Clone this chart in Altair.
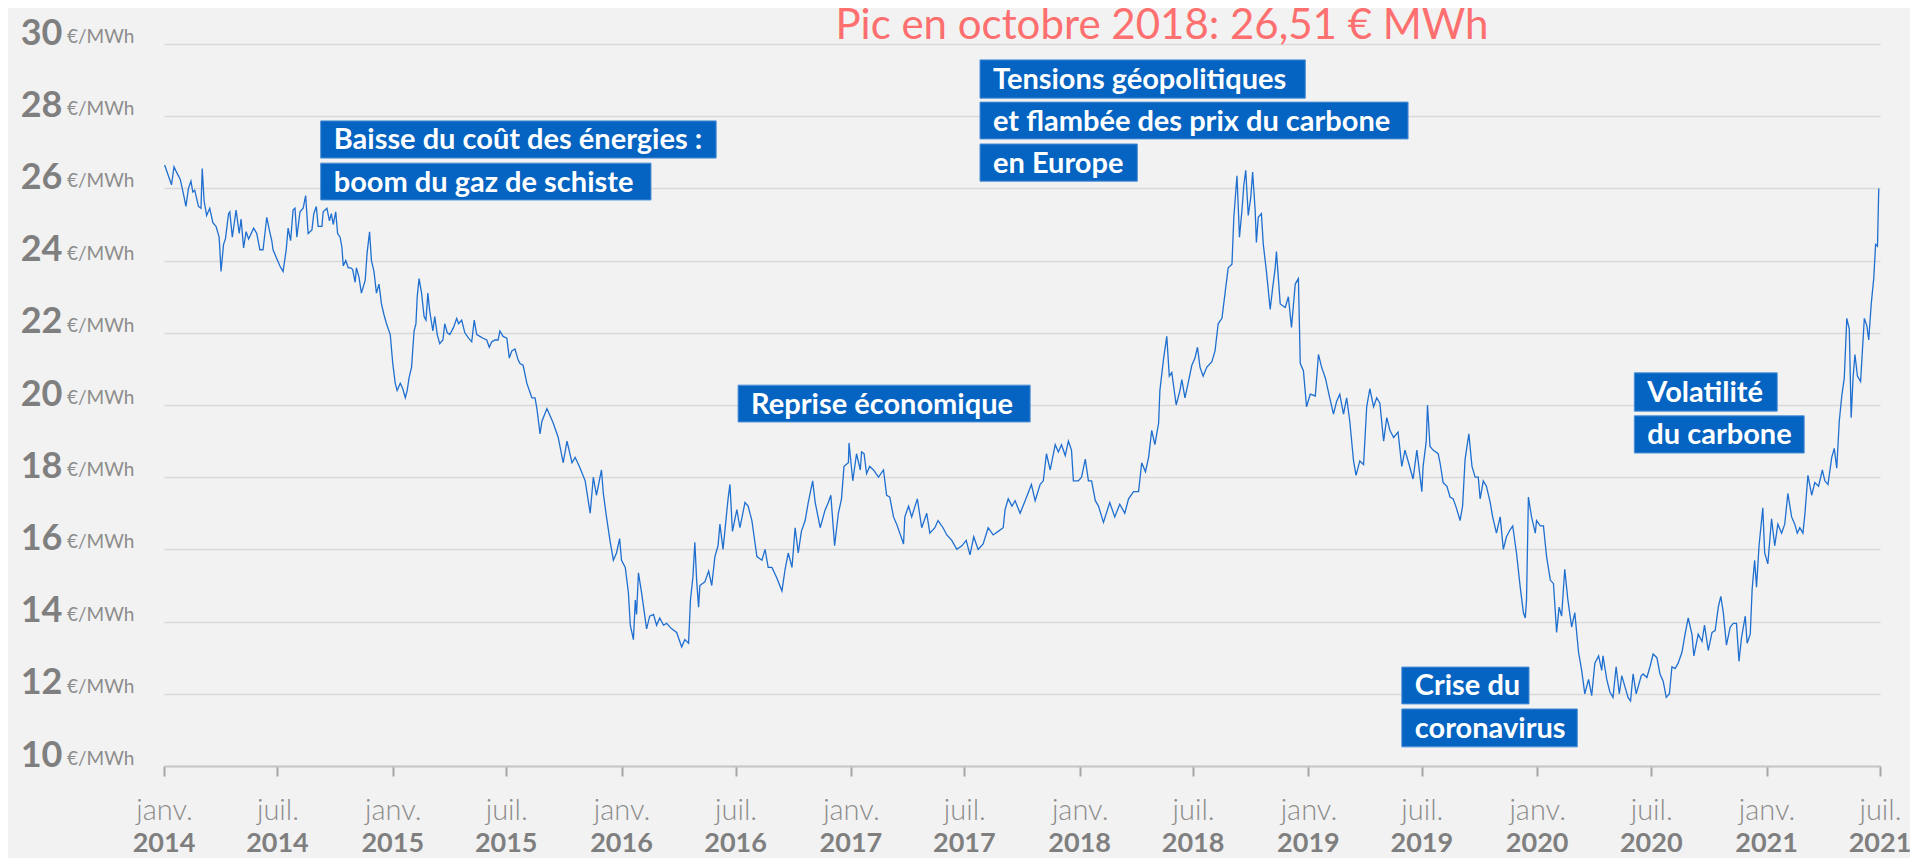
import altair as alt
import pandas as pd

START = "2014-01-01"

# days after 1 Jan 2014 and price (EUR/MWh)
days = [
    1, 7, 12, 16, 20, 26, 31, 35, 39, 43, 46, 49, 55, 59, 61, 64, 68, 73, 78, 83,
    88, 91, 95, 98, 103, 105, 109, 115, 120, 123, 127, 131, 135, 143, 148, 153, 158, 164, 168, 172,
    174, 180, 185, 190, 195, 198, 202, 206, 209, 212, 217, 222, 226, 230, 236, 239, 243, 246, 252, 254,
    260, 264, 267, 270, 274, 277, 281, 284, 286, 290, 294, 298, 301, 305, 307, 311, 315, 321, 324, 328,
    331, 335, 339, 343, 347, 351, 355, 361, 365, 369, 372, 377, 381, 385, 388, 391, 395, 399, 402, 404,
    407, 411, 415, 418, 421, 424, 429, 432, 436, 440, 445, 448, 452, 456, 462, 467, 470, 475, 480, 486,
    491, 495, 499, 504, 509, 515, 519, 523, 528, 533, 536, 541, 547, 551, 555, 560, 565,
    568, 573, 579, 587, 592, 595, 600, 603, 611, 616, 621, 629, 637, 643, 651, 656, 664, 672, 680, 685,
    690, 698, 701, 706, 712, 717, 722, 727, 730, 736, 741, 744, 749, 752, 754, 757, 762, 770, 775, 781,
    786, 791, 797, 802, 810, 818, 826, 831, 837, 840, 844, 847, 850, 853, 855, 863, 869, 874, 879, 884,
    887, 892, 900, 903, 907, 914, 919, 927, 932, 938, 946, 954, 959, 964, 970, 978, 986, 991, 996, 1002,
    1007, 1012, 1017, 1023, 1028, 1035, 1039, 1047, 1055, 1060, 1064, 1070, 1076, 1081, 1085, 1092, 1093, 1099, 1105, 1111,
    1113, 1117, 1121, 1126, 1132, 1140, 1148, 1153, 1158, 1164, 1169, 1174, 1180, 1182, 1188, 1193, 1202, 1209, 1217, 1222,
    1230, 1235, 1243, 1249, 1257, 1265, 1273, 1280, 1286, 1292, 1299, 1307, 1315, 1323, 1331, 1339, 1342, 1347, 1353, 1358,
    1366, 1374, 1384, 1390, 1398, 1403, 1408, 1414, 1422, 1427, 1432, 1438, 1443, 1448, 1451, 1459, 1464, 1470, 1475, 1480,
    1486, 1491, 1499,
    1509, 1517, 1525, 1533, 1539, 1547, 1555, 1560, 1566, 1571, 1576, 1581, 1587, 1589, 1595, 1600, 1604, 1608, 1615, 1621,
    1624, 1629, 1634, 1640, 1645, 1649, 1653, 1658, 1664, 1672, 1677, 1682, 1688, 1693, 1698, 1704, 1707, 1712, 1716, 1720,
    1723, 1726, 1730, 1734, 1737, 1741, 1743, 1746, 1751, 1754, 1759, 1765, 1769, 1773, 1775, 1781, 1789, 1794, 1799, 1805,
    1810, 1813, 1818, 1823, 1829, 1837, 1842, 1847, 1853, 1860, 1866, 1871, 1876, 1882, 1887, 1892, 1898, 1902, 1908, 1914,
    1919, 1924, 1930, 1935, 1940, 1946, 1951, 1956, 1962, 1969, 1975, 1980, 1985, 1993, 1999, 2007,
    2009, 2014, 2016, 2020, 2025, 2033, 2036, 2041, 2047, 2052, 2057, 2062, 2068, 2072, 2076, 2082, 2087, 2092, 2097, 2100,
    2105, 2110, 2116, 2120, 2126, 2132, 2137, 2142, 2148, 2152, 2158, 2164, 2169, 2172, 2174, 2177, 2182, 2188, 2190, 2196,
    2201, 2206, 2212, 2217, 2220, 2222, 2226, 2230, 2235, 2240, 2246, 2251, 2257, 2262, 2267, 2273, 2278, 2283, 2289, 2294,
    2296, 2302, 2307, 2312, 2317, 2322, 2326, 2331, 2336, 2340, 2344, 2349, 2357,
    2360, 2366, 2371, 2376, 2382, 2387, 2392, 2397, 2402, 2406, 2411, 2416, 2422, 2427, 2432, 2438, 2441, 2448, 2454, 2458,
    2464, 2470, 2475, 2480, 2484, 2488, 2493, 2499, 2504, 2509, 2513, 2517, 2523, 2526, 2531, 2534, 2538, 2541, 2545, 2551,
    2554, 2559, 2565, 2570, 2575, 2581, 2586, 2591, 2597, 2602, 2606, 2610, 2615, 2618, 2623, 2629, 2634, 2640, 2646, 2650,
    2655, 2661, 2665, 2669, 2673, 2677, 2681, 2685, 2689, 2692, 2695, 2698, 2702, 2707, 2713, 2717, 2720, 2724, 2728, 2731,
    2734, 2736,
]
price = [
    26.65, 26.35, 26.1, 26.6, 26.45, 26.25, 25.85, 25.5, 26.0, 26.2, 25.9, 25.95, 25.5, 25.45, 26.55, 25.65, 25.25, 25.45, 25.05, 24.95,
    24.65, 23.7, 24.45, 24.6, 25.3, 25.35, 24.65, 25.4, 24.75, 25.15, 24.35, 24.8, 24.6, 24.9, 24.75, 24.3, 24.3, 25.2, 24.85, 24.55,
    24.3, 24.05, 23.85, 23.7, 24.3, 24.9, 24.55, 25.4, 25.45, 24.65, 25.35, 25.45, 25.8, 24.75, 24.85, 25.3, 25.5, 24.95, 24.95, 25.35,
    25.45, 25.1, 25.3, 25.0, 25.35, 24.75, 24.65, 24.35, 23.85, 24.0, 23.8, 23.8, 23.75, 23.4, 23.8, 23.55, 23.1, 23.45, 24.2, 24.8,
    24.0, 23.7, 23.1, 23.35, 22.8, 22.5, 22.25, 21.95, 21.15, 20.6, 20.4, 20.6, 20.45, 20.2, 20.4, 20.75, 21.05, 22.05, 22.25, 23.0,
    23.5, 23.1, 22.45, 22.35, 23.1, 22.6, 22.05, 22.45, 21.95, 21.7, 21.8, 22.25, 22.0, 21.95, 22.15, 22.4, 22.25, 22.35, 22.0, 21.85,
    21.75, 22.35, 21.95, 21.9, 21.85, 21.8, 21.6, 21.75, 21.8, 21.8, 22.05, 21.9, 21.85, 21.3, 21.5, 21.55, 21.25,
    21.15, 21.1, 20.6, 20.2, 20.2, 19.9, 19.2, 19.55, 19.9, 19.7, 19.5, 19.1, 18.4, 19.0, 18.4, 18.55, 18.25, 17.9, 17.0, 18.0,
    17.5, 18.2, 17.55, 16.9, 16.2, 15.7, 15.9, 16.3, 15.7, 15.5, 14.8, 13.9, 13.5, 14.6, 14.2, 15.35, 14.8, 13.8, 14.15, 14.2,
    13.9, 14.1, 13.9, 13.95, 13.8, 13.7, 13.3, 13.5, 13.4, 14.6, 15.25, 16.2, 15.1, 14.4, 15.0, 15.1, 15.4, 15.0, 15.8, 16.1,
    16.7, 16.0, 17.4, 17.8, 16.5, 17.1, 16.6, 17.3, 17.2, 16.8, 15.8, 15.7, 16.0, 15.5, 15.5, 15.2, 14.85, 15.45, 15.9, 15.5,
    16.6, 15.9, 16.5, 16.8, 17.3, 17.9, 17.3, 16.6, 17.1, 17.3, 17.5, 16.1, 17.0, 17.4, 18.3, 18.4, 18.95, 17.9, 18.65, 18.2,
    18.7, 18.65, 18.1, 18.3, 18.2, 18.0, 18.2, 17.5, 17.45, 16.9, 16.7, 16.45, 16.15, 16.9, 17.2, 16.9, 17.4, 16.6, 17.0, 16.45,
    16.6, 16.8, 16.6, 16.4, 16.25, 16.0, 16.1, 16.25, 15.85, 16.35, 16.0, 16.15, 16.6, 16.4, 16.5, 16.6, 17.1, 17.4, 17.2, 17.35,
    17.0, 17.35, 17.8, 17.35, 17.8, 17.9, 18.65, 18.2, 18.9, 18.7, 18.9, 18.6, 19.0, 18.75, 17.9, 17.9, 18.0, 18.5, 17.9, 17.9,
    17.35, 17.2, 16.75,
    17.3, 16.9, 17.25, 17.0, 17.4, 17.6, 17.6, 18.4, 18.15, 18.55, 19.3, 18.9, 19.5, 20.4, 21.3, 21.9, 20.8, 20.9, 20.0, 20.4,
    20.7, 20.2, 20.6, 21.1, 21.3, 21.6, 21.05, 20.8, 21.05, 21.2, 21.5, 22.25, 22.4, 23.1, 23.8, 23.9, 25.2, 26.35, 24.65, 25.4,
    26.1, 26.5, 25.25, 25.75, 26.45, 25.4, 24.5, 25.2, 25.3, 24.45, 23.7, 22.65, 23.25, 23.8, 24.25, 22.8, 22.7, 23.0, 22.15, 23.35,
    23.5, 21.15, 20.95, 19.95, 20.3, 20.25, 21.4, 21.05, 20.75, 20.2, 19.75, 20.1, 20.3, 19.75, 20.2, 19.55, 18.45, 18.05, 18.45, 18.35,
    19.95, 20.45, 19.95, 20.2, 20.05, 19.0, 19.65, 19.3, 19.1, 19.25, 18.3, 18.75, 18.45, 17.95, 18.75, 17.6,
    18.3, 19.0, 20.0, 18.85, 18.75, 18.65, 18.4, 17.85, 17.75, 17.45, 17.4, 17.15, 16.8, 17.2, 18.5, 19.2, 18.3, 18.0, 18.0, 17.4,
    17.9, 17.75, 17.3, 16.9, 16.45, 16.9, 16.0, 16.35, 16.55, 16.65, 15.9, 14.95, 14.25, 14.1, 14.6, 17.45, 16.9, 16.45, 16.8, 16.65,
    16.65, 15.8, 15.15, 15.05, 14.25, 13.7, 14.4, 14.15, 15.45, 14.6, 13.85, 14.25, 13.15, 12.65, 12.0, 12.4, 11.95, 12.85, 13.05, 12.65,
    13.05, 12.4, 12.05, 11.9, 12.75, 12.0, 12.5, 12.2, 11.9, 11.8, 12.55, 12.0, 12.5,
    12.55, 12.45, 12.75, 13.1, 13.0, 12.55, 12.35, 11.9, 12.0, 12.75, 12.7, 12.85, 13.15, 13.65, 14.1, 13.65, 13.05, 13.65, 13.45, 13.9,
    13.2, 13.7, 13.75, 14.4, 14.7, 14.25, 13.35, 13.85, 13.95, 13.95, 12.9, 13.55, 14.15, 13.4, 13.65, 14.9, 15.7, 14.95, 16.1, 17.15,
    15.9, 15.6, 16.85, 16.1, 16.7, 16.45, 16.7, 17.55, 16.9, 16.7, 16.45, 16.6, 16.45, 16.95, 18.05, 17.5, 17.85, 17.75, 18.2, 17.9,
    17.8, 18.55, 18.8, 18.25, 19.55, 20.25, 20.75, 22.4, 22.1, 19.65, 20.75, 21.4, 20.8, 20.65, 22.4, 22.2, 21.8, 22.8, 23.5, 24.45,
    24.4, 26.0,
]

y_ticks = [10, 12, 14, 16, 18, 20, 22, 24, 26, 28, 30]
tick_years = [2014, 2014, 2015, 2015, 2016, 2016, 2017, 2017, 2018, 2018, 2019, 2019, 2020, 2020, 2021, 2021]
tick_months = [1, 7] * 8

annot_text = [
    "Baisse du coût des énergies :", "boom du gaz de schiste",
    "Tensions géopolitiques", "et flambée des prix du carbone", "en Europe",
    "Reprise économique",
    "Volatilité", "du carbone",
    "Crise du", "coronavirus",
]
annot_start = ["2014-09-08", "2014-09-08", "2017-07-26", "2017-07-26", "2017-07-26",
               "2016-07-05", "2020-06-04", "2020-06-04", "2019-05-30", "2019-05-30"]
annot_end = ["2016-05-31", "2016-02-17", "2018-12-27", "2019-06-09", "2018-04-03",
             "2017-10-14", "2021-01-18", "2021-03-02", "2019-12-19", "2020-03-05"]
annot_top = [27.87, 26.70, 29.56, 28.39, 27.23, 20.55, 20.89, 19.70, 12.74, 11.58]
annot_bottom = [26.84, 25.68, 28.50, 27.37, 26.20, 19.53, 19.83, 18.67, 11.72, 10.53]

title_text = "Pic en octobre 2018: 26,51 € MWh"

# ---------------------------------------------------------------- tables
line_df = pd.DataFrame({
    "date": pd.Timestamp(START) + pd.to_timedelta(days, unit="D"),
    "price": price,
})
tick_df = pd.DataFrame({
    "date": [pd.Timestamp(year=y, month=m, day=1) for y, m in zip(tick_years, tick_months)],
    "year": [str(y) for y in tick_years],
})
unit_df = pd.DataFrame({"v": y_ticks, "unit": ["€/MWh"] * len(y_ticks)})
annot_df = pd.DataFrame({
    "text": annot_text,
    "start": pd.to_datetime(annot_start),
    "end": pd.to_datetime(annot_end),
    "top": annot_top,
    "bottom": annot_bottom,
})
annot_df["mid"] = (annot_df["top"] + annot_df["bottom"]) / 2
title_df = pd.DataFrame({"t": [title_text]})

W, H = 1716, 722
GRAY = "#7f7f7f"
FONT = "Lato"

x_scale = alt.Scale(domain=[alt.DateTime(year=2014, month=1, date=1),
                            alt.DateTime(year=2021, month=7, date=1)])
y_scale = alt.Scale(domain=[10, 30], nice=False, zero=False)

x_axis = alt.Axis(
    values=[alt.DateTime(year=y, month=m, date=1) for y, m in zip(tick_years, tick_months)],
    labelExpr="month(datum.value) == 0 ? 'janv.' : 'juil.'",
    labelFont=FONT, labelFontWeight=300, labelFontSize=29, labelColor="#8c8c8c",
    labelBaseline="alphabetic", labelPadding=43, labelFlush=False, labelBound=False,
    labelOverlap=False, labelAngle=0,
    tickSize=10, tickColor="#a6a6a6", tickWidth=2,
    domainColor="#c6c6c6", domainWidth=2, grid=False, title=None,
)
y_axis = alt.Axis(
    values=y_ticks, grid=True, gridColor="#d9d9d9", gridWidth=1.5,
    domain=False, ticks=False,
    labelFont=FONT, labelFontWeight="bold", labelFontSize=36, labelColor=GRAY,
    labelPadding=102, labelBaseline="alphabetic", labelOffset=0, title=None,
)

X = lambda f: alt.X(f, type="temporal", scale=x_scale, axis=x_axis)
Y = lambda f: alt.Y(f, type="quantitative", scale=y_scale, axis=y_axis)

line = alt.Chart(line_df).mark_line(color="#1f6fd0", strokeWidth=1.3).encode(
    x=X("date"), y=Y("price")
)

boxes = alt.Chart(annot_df).mark_rect(
    color="#0563c1", stroke="#4d8fd6", strokeWidth=1
).encode(x=X("start"), x2="end", y=Y("top"), y2="bottom")

box_text = alt.Chart(annot_df).mark_text(
    align="left", baseline="middle", dx=13, dy=1, font=FONT, fontWeight="bold",
    fontSize=29, color="white"
).encode(x=X("start"), y=Y("mid"), text="text")

units = alt.Chart(unit_df).mark_text(
    align="left", baseline="alphabetic", font=FONT, fontSize=19, color="#8c8c8c", dy=-1
).encode(x=alt.value(-97), y=Y("v"), text="unit")

years = alt.Chart(tick_df).mark_text(
    align="center", baseline="alphabetic", font=FONT, fontWeight="bold",
    fontSize=27, color=GRAY
).encode(x=X("date"), y=alt.value(H + 86), text="year")

title = alt.Chart(title_df).mark_text(
    align="center", baseline="alphabetic", font=FONT, fontSize=42, color="#fe6f6f"
).encode(x=alt.value(998), y=alt.value(-5), text="t")

chart = alt.layer(line, boxes, box_text, units, years, title).properties(
    width=W, height=H,
    autosize=alt.AutoSizeParams(type="none"),
    padding={"left": 156, "top": 36, "right": 30, "bottom": 92},
    background="#f2f2f2",
).configure_view(strokeWidth=0)

chart.save("out.html", embed_options={"renderer": "svg", "actions": False})
